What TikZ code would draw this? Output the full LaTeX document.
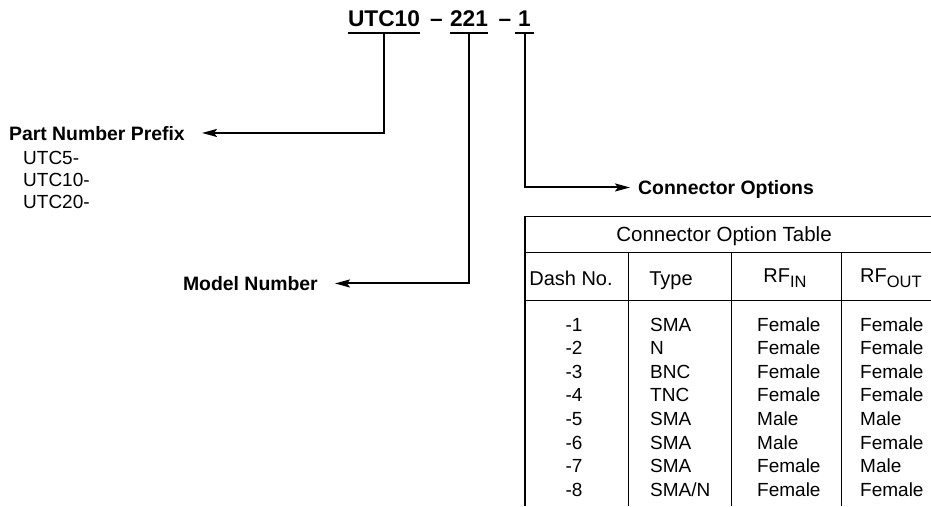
\documentclass[tikz,border=0pt]{standalone}
\usepackage{fontspec}
\setmainfont{Liberation Sans}
\usetikzlibrary{arrows.meta}
\begin{document}
\begin{tikzpicture}[x=1pt,y=-1pt,
  part/.style={font=\fontsize{22.7}{27}\selectfont\bfseries, inner sep=0pt, text depth=0pt, anchor=base},
  uline/.style={line width=2.2pt},
  conn/.style={line width=2pt, -{Stealth[length=15pt,width=8pt,inset=3pt]}},
  lbl/.style={font=\fontsize{19.4}{23}\selectfont\bfseries, inner ysep=0pt, text depth=0pt},
  reg/.style={font=\fontsize{19}{23}\selectfont, inner sep=0pt, anchor=base west},
  tline/.style={line width=1pt},
  cell/.style={font=\fontsize{19}{23}\selectfont, inner sep=0pt},
  head/.style={font=\fontsize{20}{24}\selectfont, inner sep=0pt}
]
\useasboundingbox (0,0) rectangle (931,506);

% part number title
\node[part] (p1) at (384,27) {UTC10};
\node[part] (dA) at (436.5,27) {--};
\node[part] (p2) at (469,27) {221};
\node[part] (dB) at (505,27) {--};
\node[part] (p3) at (524.5,27) {1};

\draw[uline] ([yshift=-6pt]p1.south west) -- ([yshift=-6pt]p1.south east);
\draw[uline] ([yshift=-6pt]p2.south west) -- ([yshift=-6pt]p2.south east);
\draw[uline, shorten <=-2.5pt, shorten >=-2.5pt] ([yshift=-6pt]p3.south west) -- ([yshift=-6pt]p3.south east);

% labels
\node[lbl, anchor=base east, inner xsep=17pt] (prefix) at (202,140) {Part Number Prefix};
\node[reg] (u5) at (23,164) {UTC5-};
\node[reg] (u10) at (23,186) {UTC10-};
\node[reg] (u20) at (23,208) {UTC20-};
\node[lbl, anchor=base east, inner xsep=17pt] (model) at (335,290.5) {Model Number};
\node[lbl, anchor=base west, inner xsep=8pt] (copt) at (630,194.5) {Connector Options};

% connectors
\draw[conn] ([yshift=-6pt]p1.south) |- (prefix.east);
\draw[conn] ([yshift=-6pt]p2.south) |- (model.east);
\draw[conn] ([yshift=-6pt]p3.south) |- (copt.west);

% table
\draw[line width=1.5pt] (525,506) -- (525,216.5) -- (931,216.5);
\draw[tline] (525,252.5) -- (931,252.5);
\draw[tline] (525,300) -- (931,300);
\foreach \x in {628,731.7,841} \draw[tline] (\x,252.5) -- (\x,506);

\node[head, anchor=base, font=\fontsize{20.5}{24}\selectfont] (ttl) at (724,241) {Connector Option Table};
\node[head, anchor=base] (hdash) at (571,285.5) {Dash No.};
\node[head, anchor=base] (htype) at (671,285.5) {Type};
\node[head, anchor=base] (hin) at (785,282) {RF\raisebox{-5pt}{\fontsize{16.5}{18}\selectfont IN}};
\node[head, anchor=base west] (hout) at (860,282) {RF\raisebox{-5pt}{\fontsize{16.5}{18}\selectfont OUT}};

\foreach \d/\t/\i/\o [count=\k from 1] in {
  -1/SMA/Female/Female,
  -2/N/Female/Female,
  -3/BNC/Female/Female,
  -4/TNC/Female/Female,
  -5/SMA/Male/Male,
  -6/SMA/Male/Female,
  -7/SMA/Female/Male,
  -8/{SMA/N}/Female/Female} {
  \node[cell, anchor=base] (d\k) at (574,307.5+23.6*\k) {\d};
  \node[cell, anchor=base west] (t\k) at (650,307.5+23.6*\k) {\t};
  \node[cell, anchor=base west] (i\k) at (757,307.5+23.6*\k) {\i};
  \node[cell, anchor=base west] (o\k) at (860,307.5+23.6*\k) {\o};
}
\end{tikzpicture}
\end{document}
